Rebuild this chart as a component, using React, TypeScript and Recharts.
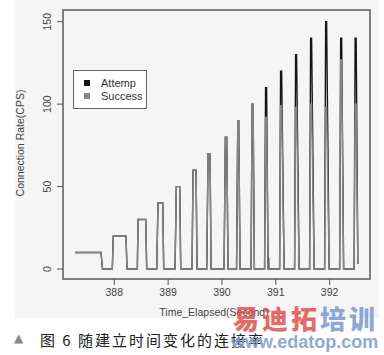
import React from "react";
import {
  Legend,
  Line,
  LineChart,
  ReferenceArea,
  XAxis,
  YAxis,
} from "recharts";

// pulse timing (seconds)
const riseStart = [
  387.27, 387.963, 388.428, 388.788, 389.128, 389.444, 389.717, 390.039,
  390.271, 390.541, 390.792, 391.071, 391.349, 391.628, 391.907, 392.186,
  392.455,
];
const peakStart = [
  387.27, 387.981, 388.441, 388.812, 389.152, 389.463, 389.742, 390.063,
  390.294, 390.559, 390.81, 391.089, 391.368, 391.647, 391.926, 392.205,
  392.474,
];
const peakEnd = [
  387.753, 388.217, 388.584, 388.9, 389.216, 389.519, 389.779, 390.089,
  390.312, 390.578, 390.829, 391.108, 391.386, 391.665, 391.944, 392.223,
  392.493,
];
const fallEnd = [
  387.781, 388.236, 388.602, 388.918, 389.234, 389.537, 389.797, 390.113,
  390.336, 390.602, 390.857, 391.154, 391.433, 391.712, 391.991, 392.26,
  392.524,
];
const attempPeaks = [10, 20, 30, 40, 50, 60, 70, 80, 90, 100, 110, 120, 130, 140, 150, 140, 140];
const successPeaks = [10, 20, 30, 40, 50, 60, 70, 80, 90, 100, 92, 99, 98, 100, 98, 127, 100];
const tailValue = 3;

// small attempt-only blip just after the 110 pulse
const blipTimes = [390.862, 390.866, 390.871];
const blipValues = [0, 7, 0];

const xTicks = [388, 389, 390, 391, 392];
const yTicks = [0, 50, 100, 150];
const xDomain = [387.047, 392.75];
const yDomain = [-6.06, 157.1];

type Pt = { t: number; v: number };

function buildSeries(peaks: number[], withBlip: boolean): Pt[] {
  const pts: Pt[] = [];
  const last = peaks.length - 1;
  peaks.forEach((p, i) => {
    pts.push({ t: riseStart[i], v: i === 0 ? p : 0 });
    pts.push({ t: peakStart[i], v: p });
    pts.push({ t: peakEnd[i], v: p });
    pts.push({ t: fallEnd[i], v: i === last ? tailValue : 0 });
    if (withBlip && i === 10) {
      blipTimes.forEach((t, k) => pts.push({ t, v: blipValues[k] }));
    }
  });
  return pts;
}

const attemp = buildSeries(attempPeaks, true);
const success = buildSeries(successPeaks, false);

const FONT = "'Liberation Sans', Arial, sans-serif";
const TXT = "#444";

const YTick = ({ x, y, payload }: any) => (
  <text
    x={x}
    y={y}
    transform={`rotate(-90, ${x}, ${y})`}
    textAnchor="middle"
    fontSize={10.5}
    fontFamily={FONT}
    fill={TXT}
  >
    {payload.value}
  </text>
);

const LegendBox = ({ payload }: any) => (
  <div
    style={{
      width: 74,
      height: 39,
      border: "1px solid #666",
      background: "#fff",
      fontFamily: FONT,
      fontSize: 11,
      color: "#333",
      padding: "6px 0 0 10px",
      boxSizing: "border-box",
      lineHeight: "12.5px",
    }}
  >
    {(payload || []).map((p: any) => (
      <div key={p.value} style={{ display: "flex", alignItems: "center" }}>
        <span
          style={{
            width: 6,
            height: 6,
            background: p.color,
            marginRight: 11,
            display: "inline-block",
          }}
        />
        {p.value}
      </div>
    ))}
  </div>
);

export default function App() {
  return (
    <div
      style={{
        position: "absolute",
        left: 0,
        top: 0,
        width: 384,
        height: 355,
        background: "#fff",
        overflow: "hidden",
      }}
    >
      <div
        style={{
          position: "absolute",
          left: 15,
          top: 0,
          width: 364,
          height: 318,
          background: "#f5f5f5",
        }}
      />
      <div style={{ position: "absolute", left: 0, top: 0 }}>
        <LineChart
          width={384}
          height={320}
          margin={{ top: 10, right: 14, left: 0, bottom: 0 }}
        >
          <XAxis
            dataKey="t"
            type="number"
            domain={xDomain}
            ticks={xTicks}
            allowDataOverflow
            axisLine={false}
            tickSize={6}
            tickMargin={4}
            height={41}
            stroke="#555"
            tick={{ fontSize: 10.5, fontFamily: FONT, fill: TXT }}
          />
          <YAxis
            type="number"
            domain={yDomain}
            ticks={yTicks}
            allowDataOverflow
            axisLine={false}
            tickSize={6}
            tickMargin={6}
            width={63}
            stroke="#555"
            tick={<YTick />}
          />
          <ReferenceArea
            x1={xDomain[0]}
            x2={xDomain[1]}
            y1={yDomain[0]}
            y2={yDomain[1]}
            fill="none"
            stroke="#5a5a5a"
            strokeWidth={1.5}
            fillOpacity={0}
          />
          <Line
            data={attemp}
            dataKey="v"
            name="Attemp"
            stroke="#151515"
            strokeWidth={1.4}
            dot={false}
            isAnimationActive={false}
            type="linear"
          />
          <Line
            data={success}
            dataKey="v"
            name="Success"
            stroke="#868686"
            strokeWidth={1.4}
            dot={false}
            isAnimationActive={false}
            type="linear"
          />
          <Legend
            layout="horizontal"
            verticalAlign="middle"
            align="center"
            content={<LegendBox />}
            wrapperStyle={{ position: "absolute", left: 73, top: 70, width: 74, height: 39 }}
          />
        </LineChart>
      </div>
      <div
        style={{
          position: "absolute",
          left: 20,
          top: 143,
          transform: "translate(-50%, -50%) rotate(-90deg)",
          fontFamily: FONT,
          fontSize: 10.5,
          color: TXT,
          whiteSpace: "nowrap",
        }}
      >
        Connection Rate(CPS)
      </div>
      <div
        style={{
          position: "absolute",
          left: 214,
          top: 312,
          transform: "translate(-50%, -50%)",
          fontFamily: FONT,
          fontSize: 10.5,
          color: TXT,
          whiteSpace: "nowrap",
        }}
      >
        Time_Elapsed(Second)
      </div>
      <div
        style={{
          position: "absolute",
          left: 14,
          top: 331,
          fontSize: 12,
          color: "#8a8a8a",
          fontFamily: "'DejaVu Sans', sans-serif",
        }}
      >
        ▲
      </div>
      <div
        style={{
          position: "absolute",
          left: 40,
          top: 330,
          fontFamily: "'Noto Sans CJK SC', sans-serif",
          fontSize: 15,
          letterSpacing: 2,
          color: "#222",
          whiteSpace: "pre",
          lineHeight: "20px",
        }}
      >
        图 6 随建立时间变化的连接率
      </div>
      <div
        style={{
          position: "absolute",
          left: 233,
          top: 304,
          fontFamily: "'Noto Sans CJK SC', sans-serif",
          fontWeight: 900,
          fontSize: 26,
          lineHeight: "28px",
          whiteSpace: "nowrap",
          letterSpacing: 3,
        }}
      >
        <span style={{ color: "rgba(222, 80, 76, 0.85)" }}>易迪拓</span>
        <span style={{ color: "rgba(120, 152, 205, 0.85)" }}>培训</span>
      </div>
      <div
        style={{
          position: "absolute",
          left: 231,
          top: 332,
          fontFamily: FONT,
          fontWeight: 700,
          fontSize: 18,
          lineHeight: "20px",
          color: "rgba(130, 160, 205, 0.9)",
          whiteSpace: "nowrap",
        }}
      >
        www.edatop.com
      </div>
    </div>
  );
}
